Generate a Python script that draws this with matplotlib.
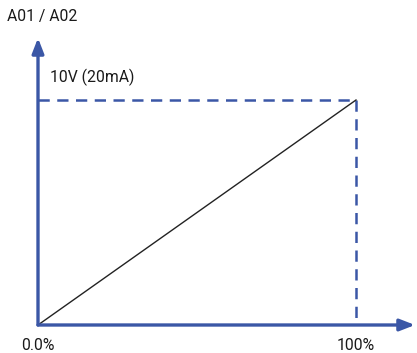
import matplotlib
matplotlib.use("Agg")
import matplotlib.pyplot as plt

x_vals = [0.0, 1.0]
y_vals = [0.0, 10.0]
x_labels = ["0.0%", "100%"]
y_axis_label = "A01 / A02"
max_label = "10V (20mA)"

blue = "#3b57a6"
fam = ["Roboto", "DejaVu Sans"]
fs = 11.3

fig = plt.figure(figsize=(4.17, 3.53), dpi=100)
ax = fig.add_axes([0, 0, 1, 1])
# pixel mapping: origin at (38,325), x=1 at 356px, y=10 at 100px (from top)
ax.set_xlim(-38 / 318, (417 - 38) / 318)
ax.set_ylim(-28 / 22.5, (353 - 28) / 22.5)
ax.axis("off")

# axes with arrows
xmax_arrow = (415 - 38) / 318
ymax_arrow = (325 - 38) / 22.5
ax.annotate("", xy=(xmax_arrow, 0), xytext=(0, 0),
            arrowprops=dict(arrowstyle="-|>,head_length=0.9,head_width=0.35",
                            color=blue, lw=2.4, shrinkA=0, shrinkB=0))
ax.annotate("", xy=(0, ymax_arrow), xytext=(0, 0),
            arrowprops=dict(arrowstyle="-|>,head_length=0.9,head_width=0.35",
                            color=blue, lw=2.4, shrinkA=0, shrinkB=0))

# dashed guides
ax.plot([0, x_vals[1]], [y_vals[1], y_vals[1]], color=blue, lw=1.8,
        dashes=(4.5, 3))
ax.plot([x_vals[1], x_vals[1]], [y_vals[1], 0], color=blue, lw=1.8,
        dashes=(4.5, 3))

# main line
ax.plot(x_vals, y_vals, color="#222222", lw=1.0)

# texts
ax.text(-31 / 318, (325 - 17) / 22.5, y_axis_label, fontsize=fs,
        family=fam, ha="left", va="center", color="#1a1a1a")
ax.text(12 / 318, (325 - 77) / 22.5, max_label, fontsize=fs,
        family=fam, ha="left", va="center", color="#1a1a1a")
ax.text(x_vals[0], -20 / 22.5, x_labels[0], fontsize=fs, family=fam,
        ha="center", va="center", color="#1a1a1a")
ax.text(x_vals[1], -20 / 22.5, x_labels[1], fontsize=fs, family=fam,
        ha="center", va="center", color="#1a1a1a")

fig.savefig("out.png", dpi=100)
